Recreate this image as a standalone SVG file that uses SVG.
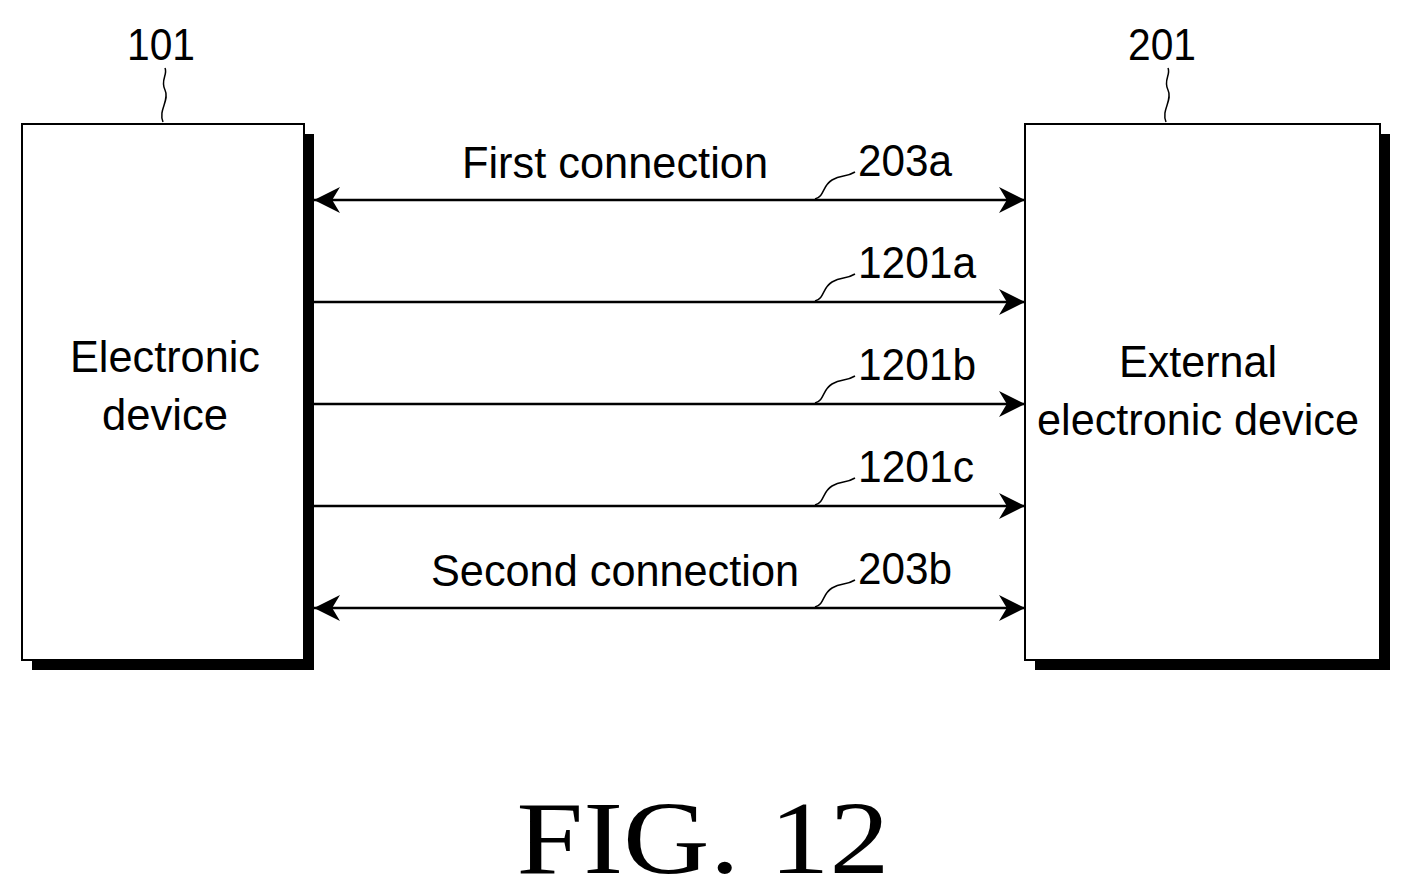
<svg xmlns="http://www.w3.org/2000/svg" width="1410" height="896" viewBox="0 0 1410 896">
<defs>
<style>
.box{fill:#fff;stroke:#000;stroke-width:2}
.sh{fill:#000}
.t{font-family:"Liberation Sans",Arial,sans-serif;font-size:44px;fill:#000}
.ln{stroke:#000;stroke-width:2.5;fill:none}
.ld{stroke:#000;stroke-width:1.5;fill:none}
</style>
<marker id="a" viewBox="0 0 10 10" refX="10" refY="5" markerWidth="32" markerHeight="26" markerUnits="userSpaceOnUse" orient="auto-start-reverse"><path d="M0,0 L10,5 L0,10 L3,5 Z" fill="#000"/></marker>
</defs>
<rect width="1410" height="896" fill="#fff"/>
<g id="n101">
<rect class="sh" x="32" y="134" width="282" height="536"/>
<rect class="box" x="22" y="124" width="282" height="536"/>
<text class="t" x="165" y="372" text-anchor="middle" textLength="190" lengthAdjust="spacingAndGlyphs">Electronic</text>
<text class="t" x="165" y="430" text-anchor="middle" textLength="126" lengthAdjust="spacingAndGlyphs">device</text>
<text class="t" x="161" y="60" text-anchor="middle" textLength="68" lengthAdjust="spacingAndGlyphs">101</text>
<path class="ld" d="M163,122 C158,110 170,100 165,90 C160,80 168,75 165,68"/>
</g>
<g id="n201">
<rect class="sh" x="1035" y="134" width="355" height="536"/>
<rect class="box" x="1025" y="124" width="355" height="536"/>
<text class="t" x="1198" y="377" text-anchor="middle" textLength="158" lengthAdjust="spacingAndGlyphs">External</text>
<text class="t" x="1198" y="435" text-anchor="middle" textLength="322" lengthAdjust="spacingAndGlyphs">electronic device</text>
<text class="t" x="1162" y="60" text-anchor="middle" textLength="68" lengthAdjust="spacingAndGlyphs">201</text>
<path class="ld" d="M1166,122 C1161,110 1173,100 1168,90 C1163,80 1171,75 1168,68"/>
</g>
<g id="connectors">
<line class="ln" x1="314" y1="200" x2="1025" y2="200" marker-start="url(#a)" marker-end="url(#a)"/>
<line class="ln" x1="314" y1="302" x2="1025" y2="302" marker-end="url(#a)"/>
<line class="ln" x1="314" y1="404" x2="1025" y2="404" marker-end="url(#a)"/>
<line class="ln" x1="314" y1="506" x2="1025" y2="506" marker-end="url(#a)"/>
<line class="ln" x1="314" y1="608" x2="1025" y2="608" marker-start="url(#a)" marker-end="url(#a)"/>
<text class="t" x="615" y="178" text-anchor="middle" textLength="306" lengthAdjust="spacingAndGlyphs">First connection</text>
<text class="t" x="615" y="586" text-anchor="middle" textLength="368" lengthAdjust="spacingAndGlyphs">Second connection</text>
<text class="t" x="858" y="176" textLength="94" lengthAdjust="spacingAndGlyphs">203a</text>
<text class="t" x="858" y="278" textLength="118" lengthAdjust="spacingAndGlyphs">1201a</text>
<text class="t" x="858" y="380" textLength="118" lengthAdjust="spacingAndGlyphs">1201b</text>
<text class="t" x="858" y="482" textLength="116" lengthAdjust="spacingAndGlyphs">1201c</text>
<text class="t" x="858" y="584" textLength="94" lengthAdjust="spacingAndGlyphs">203b</text>
<path class="ld" d="M815,199 C825,196 822,186 832,180 C842,174 845,178 855,172"/>
<path class="ld" d="M815,301 C825,298 822,288 832,282 C842,276 845,280 855,274"/>
<path class="ld" d="M815,403 C825,400 822,390 832,384 C842,378 845,382 855,376"/>
<path class="ld" d="M815,505 C825,502 822,492 832,486 C842,480 845,484 855,478"/>
<path class="ld" d="M815,607 C825,604 822,594 832,588 C842,582 845,586 855,580"/>
</g>
<text x="703" y="873" text-anchor="middle" font-family="Liberation Serif,serif" font-size="104" textLength="373" lengthAdjust="spacingAndGlyphs">FIG. 12</text>
</svg>
